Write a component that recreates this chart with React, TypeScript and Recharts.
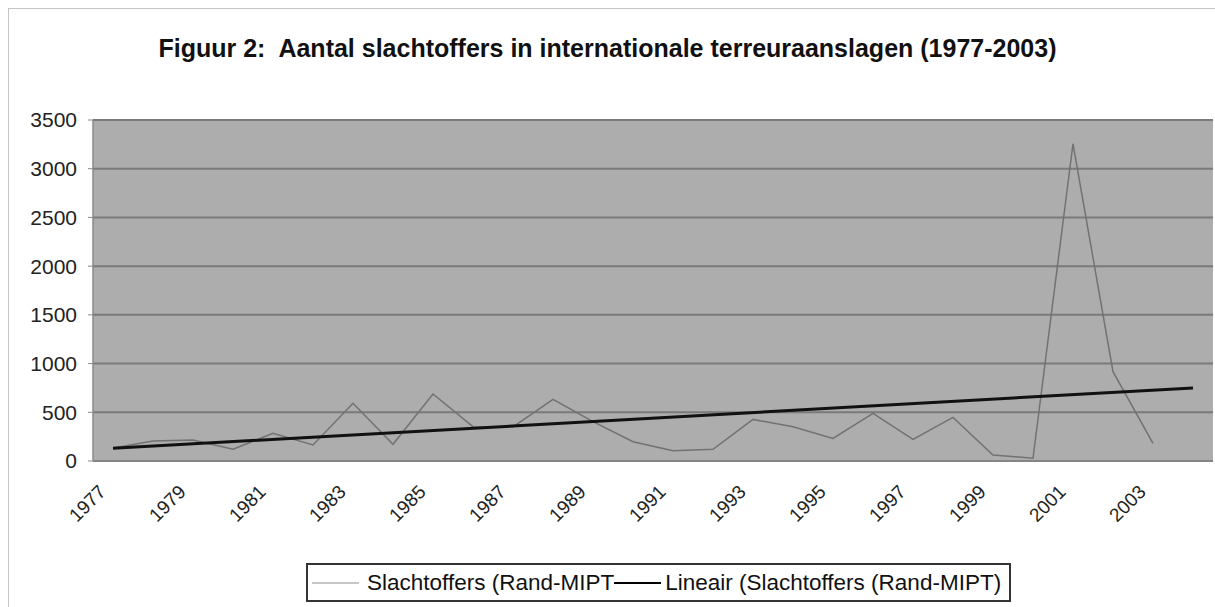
import React from 'react';
import { LineChart, Line, XAxis, YAxis, CartesianGrid, Legend } from 'recharts';

const years = [1977, 1978, 1979, 1980, 1981, 1982, 1983, 1984, 1985, 1986, 1987, 1988, 1989, 1990, 1991, 1992, 1993, 1994, 1995, 1996, 1997, 1998, 1999, 2000, 2001, 2002, 2003, 2004];
const victims: (number | null)[] = [133, 205, 215, 120, 284, 164, 592, 171, 688, 352, 350, 633, 404, 198, 106, 120, 427, 352, 232, 489, 222, 448, 62, 28, 3256, 917, 181, null];
const trendPoints: Record<number, number> = { 1977: 130, 2004: 750 };
const yTicks = [0, 500, 1000, 1500, 2000, 2500, 3000, 3500];
const xLabelYears = [1977, 1979, 1981, 1983, 1985, 1987, 1989, 1991, 1993, 1995, 1997, 1999, 2001, 2003];
const seriesNames = ['Slachtoffers (Rand-MIPT', 'Lineair (Slachtoffers (Rand-MIPT)'];
const legendColors = ['#c8c8c8', '#000000'];

const title = 'Figuur 2:  Aantal slachtoffers in internationale terreuraanslagen (1977-2003)';

const data = years.map((y, i) => ({
  year: y,
  victims: victims[i],
  trend: trendPoints[y] !== undefined ? trendPoints[y] : null,
}));

const boundaries = [...years.map((y) => y - 0.5), years[years.length - 1] + 0.5];
const xDomain: [number, number] = [boundaries[0], boundaries[boundaries.length - 1]];

const FONT = '"Liberation Sans", Arial, sans-serif';

const XTick = (props: any) => {
  const { x, y, payload } = props;
  return (
    <g transform={`translate(${x - 6},${y + 27})`}>
      <text transform="rotate(-45)" textAnchor="end" fontSize={19} fill="#222" fontFamily={FONT}>
        {payload.value}
      </text>
    </g>
  );
};

const LegendBox = () => (
  <div
    style={{
      display: 'inline-flex',
      alignItems: 'center',
      border: '2px solid #333',
      background: '#fff',
      padding: '5px 8px 5px 4px',
      fontFamily: FONT,
      fontSize: 22.5,
      color: '#111',
      whiteSpace: 'nowrap',
      lineHeight: '25px',
    }}
  >
    <span style={{ display: 'inline-block', width: 47, borderTop: `2px solid ${legendColors[0]}`, marginRight: 8 }} />
    <span>{seriesNames[0]}</span>
    <span style={{ display: 'inline-block', width: 47, borderTop: `2px solid ${legendColors[1]}`, marginRight: 4 }} />
    <span>{seriesNames[1]}</span>
  </div>
);

export default function App() {
  return (
    <div style={{ position: 'fixed', left: 0, top: 0, width: 1215, height: 607, overflow: 'hidden', background: '#fff' }}>
      <div
        style={{
          position: 'absolute',
          left: 8,
          top: 8,
          width: 1215,
          height: 640,
          borderLeft: '1px solid #c4c4c4',
          borderTop: '1px solid #c4c4c4',
        }}
      />
      <div
        style={{
          position: 'absolute',
          left: 0,
          top: 36,
          width: 1215,
          textAlign: 'center',
          fontFamily: FONT,
          fontWeight: 'bold',
          fontSize: 25,
          lineHeight: '25px',
          color: '#111',
          whiteSpace: 'pre',
        }}
      >
        {title}
      </div>
      <div style={{ position: 'absolute', left: 0, top: 0 }}>
        <LineChart width={1215} height={607} data={data} margin={{ top: 120, right: 2, left: 0, bottom: 81 }}>
          <CartesianGrid xAxisId="b" vertical={false} horizontal={true} fill="#adadad" stroke="#7a7a7a" strokeWidth={2} />
          <XAxis
            xAxisId="b"
            type="number"
            dataKey="year"
            domain={xDomain}
            allowDataOverflow
            ticks={boundaries}
            interval={0}
            tick={false}
            tickSize={6}
            height={5}
            axisLine={{ stroke: '#8a8a8a', strokeWidth: 1.5 }}
            tickLine={{ stroke: '#8a8a8a' }}
          />
          <XAxis
            xAxisId="l"
            type="number"
            dataKey="year"
            domain={xDomain}
            allowDataOverflow
            ticks={xLabelYears}
            interval={0}
            axisLine={false}
            tickLine={false}
            tickSize={0}
            tickMargin={0}
            height={60}
            tick={<XTick />}
          />
          <YAxis
            type="number"
            domain={[0, 3500]}
            ticks={yTicks}
            interval={0}
            width={93}
            tickSize={5}
            tickMargin={11}
            axisLine={{ stroke: '#8a8a8a', strokeWidth: 1.5 }}
            tickLine={{ stroke: '#8a8a8a' }}
            tick={{ fontSize: 21, fill: '#222', fontFamily: FONT }}
          />
          <Line
            xAxisId="b"
            type="linear"
            dataKey="victims"
            name={seriesNames[0]}
            stroke="#727272"
            strokeWidth={1.5}
            dot={false}
            isAnimationActive={false}
          />
          <Line
            xAxisId="l"
            type="linear"
            dataKey="trend"
            name={seriesNames[1]}
            stroke="#111"
            strokeWidth={3}
            dot={false}
            connectNulls
            isAnimationActive={false}
          />
          <Legend
            layout="horizontal"
            verticalAlign="middle"
            align="center"
            content={<LegendBox />}
            wrapperStyle={{ left: 306, top: 563, width: 'auto' }}
          />
        </LineChart>
      </div>
    </div>
  );
}
